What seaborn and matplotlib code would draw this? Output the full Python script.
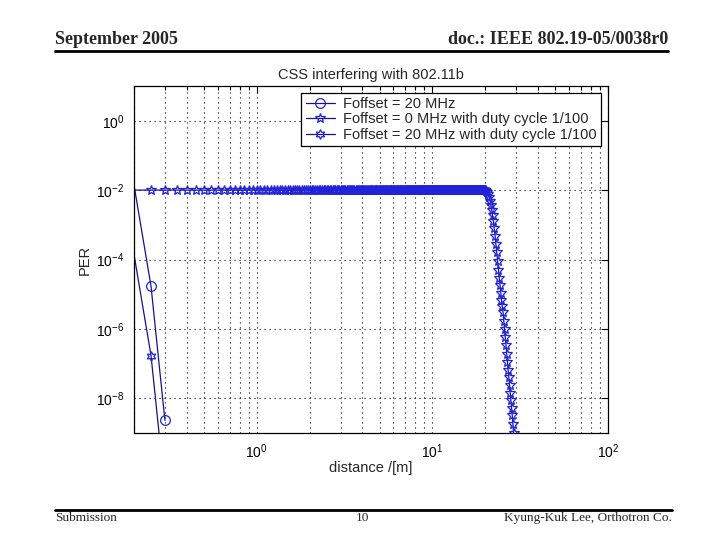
import numpy as np
import pandas as pd
import matplotlib
matplotlib.use("Agg")
import matplotlib.pyplot as plt
from matplotlib.lines import Line2D
from matplotlib.ticker import LogLocator, NullFormatter, FixedLocator
import seaborn as sns

# ---------------- data ----------------
# Foffset = 20 MHz
x_20 = [0.2, 0.25, 0.3]
per_20 = [1.4e-2, 1.7e-5, 2.3e-9]

# Foffset = 20 MHz with duty cycle 1/100
x_20d = [0.2, 0.25, 0.3]
per_20d = [1.4e-4, 1.7e-7, 2.3e-11]

# Foffset = 0 MHz with duty cycle 1/100: plateau sampled every 0.05 m, then drop
x_plateau = np.round(np.arange(0.2, 20.001, 0.05), 2)
per_plateau_value = 1.0e-2
x_drop = [20.25, 20.5, 20.75, 21.0, 21.25, 21.5, 21.75, 22.0, 22.25, 22.5,
          22.75, 23.0, 23.25, 23.5, 23.75, 24.0, 24.25, 24.5, 24.75, 25.0,
          25.25, 25.5, 25.75, 26.0, 26.25, 26.5, 26.75, 27.0, 27.25, 27.5,
          27.75, 28.0, 28.25, 28.5, 28.75, 29.0, 29.25, 29.5]
per_drop = [9.5e-3, 8.7e-3, 7.6e-3, 6.3e-3, 5.0e-3, 3.8e-3, 2.75e-3, 1.9e-3, 1.26e-3, 7.9e-4,
            4.8e-4, 2.75e-4, 1.6e-4, 8.9e-5, 5.0e-5, 3.0e-5, 1.8e-5, 1.05e-5, 6.8e-6, 4.5e-6,
            3.0e-6, 1.7e-6, 1.0e-6, 5.9e-7, 3.4e-7, 1.95e-7, 1.1e-7, 6.6e-8, 4.0e-8, 2.4e-8,
            1.45e-8, 8.7e-9, 5.2e-9, 3.2e-9, 1.8e-9, 1.0e-9, 5.6e-10, 3.2e-10]
x_0d = list(x_plateau) + x_drop
per_0d = [per_plateau_value] * len(x_plateau) + per_drop

labels = ["Foffset = 20 MHz",
          "Foffset = 0 MHz with duty cycle 1/100",
          "Foffset = 20 MHz with duty cycle 1/100"]

x_ticks = [1, 10, 100]
y_ticks = [1e0, 1e-2, 1e-4, 1e-6, 1e-8]

# ---------------- style ----------------
sns.set_style("white")
plt.rcParams["font.family"] = ["Liberation Sans", "DejaVu Sans"]
plt.rcParams["mathtext.fontset"] = "custom"
plt.rcParams["mathtext.rm"] = "Liberation Sans"
plt.rcParams["mathtext.it"] = "Liberation Sans"
plt.rcParams["mathtext.bf"] = "Liberation Sans"

fig = plt.figure(figsize=(7.2, 5.4), dpi=100)
ax = fig.add_axes([134/720, 1-433/540, (608-134)/720, (433-86)/540])

line_c = "#14148c"
mk_c = "#2222d8"

df1 = pd.DataFrame({"x": x_20, "y": per_20})
df2 = pd.DataFrame({"x": x_0d, "y": per_0d})
df3 = pd.DataFrame({"x": x_20d, "y": per_20d})

common = dict(estimator=None, sort=False, color=line_c, linewidth=0.9,
              markerfacecolor="none", markeredgecolor=mk_c, markeredgewidth=0.9,
              markevery=slice(1, None), ax=ax)
sns.lineplot(data=df1, x="x", y="y", marker="o", markersize=7, label=labels[0], **common)
sns.lineplot(data=df2, x="x", y="y", marker="*", markersize=7, label=labels[1], **common)
sns.lineplot(data=df3, x="x", y="y", marker=(6, 1, 0), markersize=7, label=labels[2], **common)

ax.set_xscale("log")
ax.set_yscale("log")
ax.set_xlim(0.2, 100)
ax.set_ylim(1e-9, 1e1)

ax.xaxis.set_major_locator(FixedLocator(x_ticks))
ax.xaxis.set_minor_locator(LogLocator(base=10, subs=np.arange(2, 10)))
ax.xaxis.set_minor_formatter(NullFormatter())
ax.set_xticklabels([r"$10^{%d}$" % int(np.log10(v)) for v in x_ticks])
ax.yaxis.set_major_locator(FixedLocator(y_ticks))
ax.yaxis.set_minor_locator(FixedLocator([]))
ax.set_yticklabels([r"$10^{%d}$" % int(round(np.log10(v))) for v in y_ticks])

ax.tick_params(which="both", direction="in", top=True, right=True, colors="black",
               labelsize=10)
ax.tick_params(which="major", length=5, width=0.8, pad=7)
ax.tick_params(which="minor", length=3, width=0.8)

ax.grid(True, which="major", axis="both", linestyle=(0, (1, 3.5)), color="black", linewidth=0.8)
ax.grid(True, which="minor", axis="x", linestyle=(0, (1, 3.5)), color="black", linewidth=0.8)
for s in ax.spines.values():
    s.set_visible(True)
    s.set_color("black")
    s.set_linewidth(0.9)

ax.set_title("CSS interfering with 802.11b", fontsize=10.5, pad=5)
ax.set_xlabel("distance /[m]", fontsize=10.5, labelpad=0)
ax.set_ylabel("PER", fontsize=10.5, labelpad=3)

leg = ax.legend(loc="upper right", fontsize=10.5, frameon=True, fancybox=False,
                edgecolor="black", framealpha=1, borderaxespad=0.45,
                handlelength=2.0, handletextpad=0.6, borderpad=0.3, labelspacing=0.1)
leg.get_frame().set_linewidth(0.9)

# ---------------- slide header / footer ----------------
fig.text(55/720, 1-40/540, "September 2005", ha="left", va="center",
         family=["Liberation Serif"], fontweight="bold", fontsize=13)
fig.text(668/720, 1-40/540, "doc.: IEEE 802.19-05/0038r0", ha="right", va="center",
         family=["Liberation Serif"], fontweight="bold", fontsize=13)
fig.add_artist(Line2D([55/720, 668/720], [1-51/540, 1-51/540], color="black", linewidth=2))

fig.add_artist(Line2D([55/720, 672/720], [1-510/540, 1-510/540], color="black", linewidth=2))
fig.text(55/720, 1-518/540, "Submission", ha="left", va="center",
         family=["Liberation Serif"], fontsize=9.5)
fig.text(362/720, 1-518/540, "10", ha="center", va="center",
         family=["Liberation Serif"], fontsize=9.5)
fig.text(672/720, 1-518/540, "Kyung-Kuk Lee, Orthotron Co.", ha="right", va="center",
         family=["Liberation Serif"], fontsize=9.5)

fig.savefig("out.png", dpi=100)
